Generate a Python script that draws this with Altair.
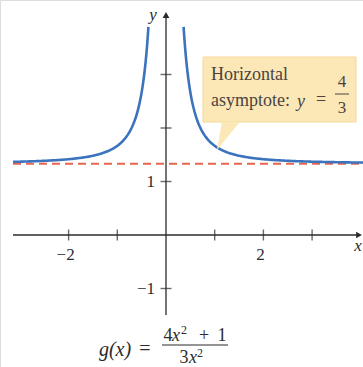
import altair as alt
import numpy as np
import pandas as pd

# Tick positions and labels
x_ticks = [-2, -1, 1, 2, 3]
y_ticks = [-1, 1, 2, 3]
x_tick_labels = [(-2, "\u22122"), (2, "2")]
y_tick_labels = [(-1, "\u22121"), (1, "1")]

# Horizontal asymptote of g(x) = (4x^2 + 1) / (3x^2)
asymptote = 4 / 3

# Sample points for the two branches of g
x_left = np.linspace(-3.14, -0.361, 200)
x_right = np.linspace(0.361, 4.05, 200)


def g(x):
    return (4 * x**2 + 1) / (3 * x**2)


curve = pd.concat([
    pd.DataFrame({"x": x_left, "y": g(x_left), "branch": "left"}),
    pd.DataFrame({"x": x_right, "y": g(x_right), "branch": "right"}),
])

W, H = 363, 367
X0, SX = 166, 48.7   # pixel of x=0, pixels per unit
Y0, SY = 235, 53.5   # pixel of y=0, pixels per unit


def dx(px):
    return (px - X0) / SX


def dy(py):
    return (Y0 - py) / SY


xs = alt.Scale(domain=[dx(0), dx(W)], nice=False, zero=False)
ys = alt.Scale(domain=[dy(H), dy(0)], nice=False, zero=False)
X = lambda f="x": alt.X(f, type="quantitative", scale=xs, axis=None)
Y = lambda f="y": alt.Y(f, type="quantitative", scale=ys, axis=None)

AX = "#2b2b2b"
SERIF = "Liberation Serif"
BLUE = "#3b73bd"
RED = "#e8654f"

# Callout box and pointer
box = alt.Chart(pd.DataFrame({"x": [dx(203)], "x2": [dx(356)], "y": [dy(122)], "y2": [dy(57)]})).mark_rect(
    fill="#fce8b6", stroke="#f4d995", strokeWidth=1
).encode(x=X(), x2="x2", y=Y(), y2="y2")

pointer = alt.Chart(pd.DataFrame({"x": [dx(229)], "y": [dy(136)]})).mark_point(
    shape="M -0.47 -0.95 L 0.73 -0.95 L -0.8 0.93 Z", size=900, filled=True,
    fill="#fce8b6", opacity=1, strokeWidth=0
).encode(x=X(), y=Y())

# Dashed asymptote
dash = alt.Chart(pd.DataFrame({"x": [dx(13)], "x2": [dx(W)], "y": [asymptote]})).mark_rule(
    color=RED, strokeWidth=2, strokeDash=[8, 5]
).encode(x=X(), x2="x2", y=Y())

# Coordinate axes
x_axis = alt.Chart(pd.DataFrame({"x": [dx(13)], "x2": [dx(358)], "y": [0]})).mark_rule(
    color=AX, strokeWidth=1.3
).encode(x=X(), x2="x2", y=Y())
y_axis = alt.Chart(pd.DataFrame({"x": [0], "y": [dy(315)], "y2": [dy(16)]})).mark_rule(
    color=AX, strokeWidth=1.3
).encode(x=X(), y=Y(), y2="y2")

x_arrow = alt.Chart(pd.DataFrame({"x": [dx(359)], "y": [0]})).mark_point(
    shape="triangle-right", size=45, filled=True, color=AX, opacity=1
).encode(x=X(), y=Y())
y_arrow = alt.Chart(pd.DataFrame({"x": [0], "y": [dy(15)]})).mark_point(
    shape="triangle-up", size=45, filled=True, color=AX, opacity=1
).encode(x=X(), y=Y())

xt = alt.Chart(pd.DataFrame({"x": x_ticks, "y": [0] * len(x_ticks)})).mark_tick(
    orient="vertical", size=11, thickness=1.4, color=AX
).encode(x=X(), y=Y())
yt = alt.Chart(pd.DataFrame({"x": [0] * len(y_ticks), "y": y_ticks})).mark_tick(
    orient="horizontal", size=11, thickness=1.4, color=AX
).encode(x=X(), y=Y())

xl = alt.Chart(pd.DataFrame({"x": [v for v, _ in x_tick_labels], "t": [t for _, t in x_tick_labels]})).mark_text(
    font=SERIF, fontSize=17, color=AX, baseline="middle", align="center", dx=-3, dy=20
).encode(x=X(), y=alt.value(Y0), text="t:N")
yl = alt.Chart(pd.DataFrame({"y": [v for v, _ in y_tick_labels], "t": [t for _, t in y_tick_labels]})).mark_text(
    font=SERIF, fontSize=17, color=AX, baseline="middle", align="right", dx=-11
).encode(x=alt.value(X0), y=Y(), text="t:N")

# Graph of g
line = alt.Chart(curve).mark_line(color=BLUE, strokeWidth=2.6, clip=True).encode(
    x=X(), y=Y(), detail="branch:N", order="x:Q"
)


def txt(s, px, py, size=17, italic=False, align="left", color=AX):
    return alt.Chart(pd.DataFrame({"x": [dx(px)], "y": [dy(py)], "t": [s]})).mark_text(
        font=SERIF, fontSize=size, fontStyle="italic" if italic else "normal",
        align=align, baseline="middle", color=color
    ).encode(x=X(), y=Y(), text="t:N")


BOXTXT = "#4b4340"
labels = [
    txt("x", 358, 246, italic=True, align="center"),
    txt("y", 153, 15, italic=True, align="center"),
    txt("Horizontal", 211, 75, size=18, color=BOXTXT),
    txt("asymptote:", 211, 101, size=18, color=BOXTXT),
    txt("y", 301, 102, size=18, italic=True, align="center", color=BOXTXT),
    txt("=", 321, 100, size=18, align="center", color=BOXTXT),
    txt("4", 342, 82, size=17, align="center", color=BOXTXT),
    txt("3", 342, 108, size=17, align="center", color=BOXTXT),
    # g(x) = (4x^2 + 1) / (3x^2)
    txt("g(x)", 115, 350, size=20, italic=True, align="center"),
    txt("=", 145, 349, size=20, align="center"),
    txt("4", 168, 336, size=18, align="center"),
    txt("x", 172, 336, size=18, italic=True, align="left"),
    txt("2", 181, 330, size=12, align="left"),
    txt("+", 204, 336, size=18, align="center"),
    txt("1", 222, 336, size=18, align="center"),
    txt("3", 184, 358, size=18, align="center"),
    txt("x", 189, 358, size=18, italic=True, align="left"),
    txt("2", 197, 353, size=12, align="left"),
]

frac_main = alt.Chart(pd.DataFrame({"x": [dx(162)], "x2": [dx(228)], "y": [dy(345)]})).mark_rule(
    color=AX, strokeWidth=1
).encode(x=X(), x2="x2", y=Y())
frac_box = alt.Chart(pd.DataFrame({"x": [dx(335)], "x2": [dx(349)], "y": [dy(94)]})).mark_rule(
    color=BOXTXT, strokeWidth=1
).encode(x=X(), x2="x2", y=Y())

chart = alt.layer(
    dash, x_axis, y_axis, xt, yt, line, box, pointer, x_arrow, y_arrow, xl, yl,
    frac_main, frac_box, *labels
).properties(
    width=W, height=H, padding=0, autosize=alt.AutoSizeParams(type="none")
).configure_view(stroke=None).configure(background="white")

chart.save("out.html", embed_options={"renderer": "svg", "actions": False})
